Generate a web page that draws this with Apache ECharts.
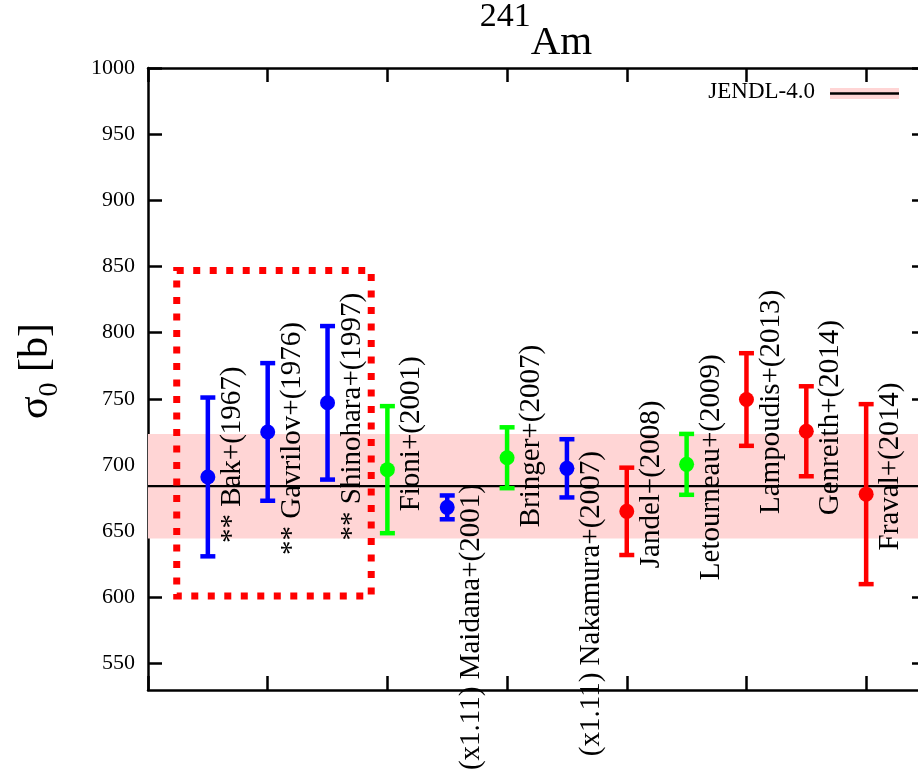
<!DOCTYPE html>
<html>
<head>
<meta charset="utf-8">
<script src="https://cdn.jsdelivr.net/npm/echarts@6/dist/echarts.min.js"></script>
<style>html,body{margin:0;padding:0;background:#fff;}#c{width:918px;height:774px;}</style>
</head>
<body>
<div id="c"></div>
<script>
// ---- data ----
var names = ['** Bak+(1967)', '** Gavrilov+(1976)', '** Shinohara+(1997)', 'Fioni+(2001)',
  '(x1.11) Maidana+(2001)', 'Bringer+(2007)', '(x1.11) Nakamura+(2007)', 'Jandel+(2008)',
  'Letourneau+(2009)', 'Lampoudis+(2013)', 'Genreith+(2014)', 'Fraval+(2014)'];
var values = [691, 725, 747, 696.5, 668, 705.5, 697.5, 665, 700.5, 749.5, 725.5, 678];
var errors = [60, 52, 58, 48, 9, 23, 22, 33, 23, 35, 34, 68];
var groups = ['b', 'b', 'b', 'g', 'b', 'g', 'b', 'r', 'g', 'r', 'r', 'r'];
var labelBase = [641, 632, 643, 665, 469.5, 653, 480, 622, 613, 663, 662, 635.5];
var jendl = 684;
var jendlUnc = 39.5;
var boxX = [0.48, 3.73];
var boxY = [601, 847];
var yTicks = [550, 600, 650, 700, 750, 800, 850, 900, 950, 1000];

var colorOf = { b: '#0000ff', g: '#00ff00', r: '#ff0000' };
var FONT = '"Liberation Serif", "Times New Roman", serif';

var pts = names.map(function (n, i) {
  return [i + 1, values[i], errors[i], labelBase[i]];
});

var chart = echarts.init(document.getElementById('c'), null, { renderer: 'canvas' });

var axisCommon = {
  axisLine: { show: true, onZero: false, lineStyle: { color: '#000', width: 2.5 } },
  axisTick: { show: true, inside: true, length: 14, lineStyle: { color: '#000', width: 2.5 } },
  splitLine: { show: false }
};

var option = {
  backgroundColor: '#fff',
  animation: false,
  title: {
    text: '{sup|241}{main|Am}',
    left: 536,
    textAlign: 'center',
    top: 0,
    padding: 0,
    textStyle: {
      fontWeight: 'normal',
      rich: {
        sup: { fontFamily: FONT, fontSize: 34, fontWeight: 'normal', color: '#000', lineHeight: 52, verticalAlign: 'top' },
        main: { fontFamily: FONT, fontSize: 41, fontWeight: 'normal', color: '#000', lineHeight: 86, verticalAlign: 'middle' }
      }
    }
  },
  grid: { left: 148, top: 68, width: 778, height: 622, containLabel: false, outerBoundsMode: 'none' },
  xAxis: [
    Object.assign({ type: 'value', position: 'bottom', min: 0, max: 13, interval: 2,
      axisLabel: { show: false } }, axisCommon),
    Object.assign({ type: 'value', position: 'top', min: 0, max: 13, interval: 2,
      axisLabel: { show: false } }, axisCommon)
  ],
  yAxis: [
    {
      type: 'value', position: 'left', min: 530, max: 1000,
      axisLine: axisCommon.axisLine,
      axisTick: { show: true, inside: true, length: 14, customValues: yTicks,
        lineStyle: { color: '#000', width: 2.5 } },
      axisLabel: { show: true, customValues: yTicks, margin: 13, color: '#000',
        fontFamily: FONT, fontSize: 22, formatter: function (v) { return String(v); } },
      splitLine: { show: false },
      name: '{a|σ}{s|0}{a| [b]}',
      nameLocation: 'middle',
      nameRotate: 90,
      nameGap: 84,
      nameTextStyle: {
        padding: [0, 0, 0, 16],
        rich: {
          a: { fontFamily: FONT, fontSize: 42, color: '#000', lineHeight: 56, verticalAlign: 'middle' },
          s: { fontFamily: FONT, fontSize: 28, color: '#000', lineHeight: 28, verticalAlign: 'bottom' }
        }
      }
    },
    {
      type: 'value', position: 'right', min: 530, max: 1000,
      axisLine: axisCommon.axisLine,
      axisTick: { show: true, inside: true, length: 14, customValues: yTicks,
        lineStyle: { color: '#000', width: 2.5 } },
      axisLabel: { show: false },
      splitLine: { show: false }
    }
  ],
  series: [
    {
      name: 'JENDL-4.0 band',
      type: 'line',
      data: [],
      z: 1,
      silent: true,
      markArea: {
        silent: true,
        itemStyle: { color: '#ffd5d5' },
        data: [[{ yAxis: jendl - jendlUnc }, { yAxis: jendl + jendlUnc }]]
      }
    },
    {
      name: 'JENDL-4.0',
      type: 'line',
      z: 2,
      showSymbol: false,
      silent: true,
      data: [[0, jendl], [13, jendl]],
      lineStyle: { color: '#000', width: 2.2 }
    },
    {
      name: 'exp',
      type: 'custom',
      z: 3,
      clip: false,
      data: pts,
      renderItem: function (params, api) {
        var i = params.dataIndex;
        var x = api.value(0), v = api.value(1), e = api.value(2), lb = api.value(3);
        var c = api.coord([x, v]);
        var t = api.coord([x, v + e]);
        var b = api.coord([x, v - e]);
        var l = api.coord([x, lb]);
        var col = colorOf[groups[i]];
        var cw = 7.5, lw = 4.5;
        return {
          type: 'group',
          children: [
            { type: 'line', shape: { x1: c[0], y1: t[1], x2: c[0], y2: b[1] }, style: { stroke: col, lineWidth: lw } },
            { type: 'line', shape: { x1: c[0] - cw, y1: t[1], x2: c[0] + cw, y2: t[1] }, style: { stroke: col, lineWidth: lw } },
            { type: 'line', shape: { x1: c[0] - cw, y1: b[1], x2: c[0] + cw, y2: b[1] }, style: { stroke: col, lineWidth: lw } },
            { type: 'circle', shape: { cx: c[0], cy: c[1], r: 7.5 }, style: { fill: col } },
            { type: 'text', x: c[0] + 24.5, y: l[1], rotation: Math.PI / 2,
              style: { text: names[i], fontFamily: FONT, fontSize: 29, fill: '#000', align: 'left', verticalAlign: 'middle' } }
          ]
        };
      }
    },
    {
      name: 'box',
      type: 'custom',
      z: 4,
      clip: false,
      silent: true,
      data: [[boxX[0], boxY[0], boxX[1], boxY[1]]],
      renderItem: function (params, api) {
        var p0 = api.coord([api.value(0), api.value(3)]);
        var p1 = api.coord([api.value(2), api.value(1)]);
        return {
          type: 'rect',
          shape: { x: p0[0], y: p0[1], width: p1[0] - p0[0], height: p1[1] - p0[1] },
          style: { fill: 'none', stroke: '#ff0000', lineWidth: 7, lineDash: [7, 9.5] }
        };
      }
    }
  ],
  graphic: [
    { type: 'text', right: 918 - 815, top: 80,
      style: { text: 'JENDL-4.0', fontFamily: FONT, fontSize: 23, fill: '#000' } },
    { type: 'rect', left: 830, top: 88, shape: { width: 69, height: 11 }, style: { fill: '#ffd5d5' } },
    { type: 'line', shape: { x1: 830, y1: 93.5, x2: 899, y2: 93.5 }, style: { stroke: '#000', lineWidth: 2.5 } }
  ]
};
chart.setOption(option);
</script>
</body>
</html>
